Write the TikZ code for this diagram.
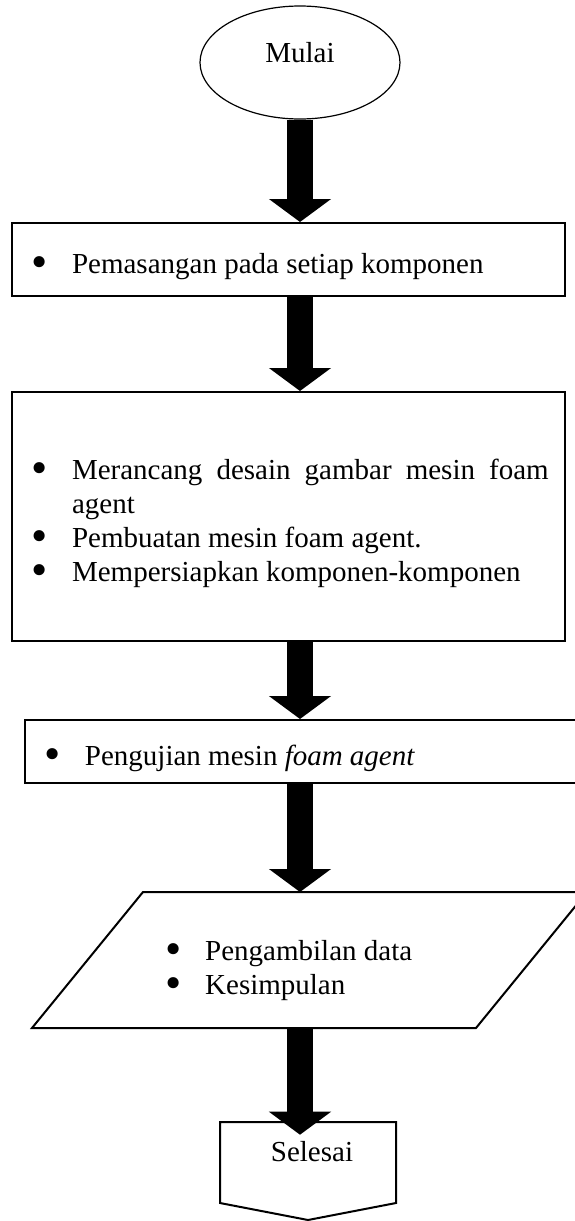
\documentclass[tikz,border=0pt]{standalone}
\usepackage{fontspec,graphicx}
\setmainfont{Liberation Serif}
\usetikzlibrary{arrows.meta,shapes.geometric}
\newcommand{\butir}[1]{\par\hangindent=21.9pt\hangafter=1\noindent\makebox[21.9pt][l]{\hspace{1.85pt}\raisebox{-2pt}{\scalebox{1.6}{\textbullet}}}#1}

\begin{document}
\begin{tikzpicture}[x=0.5pt,y={(0pt,-0.5pt)},font=\fontsize{14.5pt}{17pt}\selectfont,fr/.style={draw,line width=1pt,inner xsep=8.1pt,inner ysep=0pt,text width=260.25pt,align=justify},blk/.style={line width=13pt,-{Triangle[width=30.5pt,length=11.5pt]}}]
\useasboundingbox (0,0) rectangle (574,1221);
\node[ellipse,draw,line width=0.6pt,minimum width=100pt,minimum height=56.5pt,text depth=10pt] (mulai) at (300,62.5) {Mulai};
\node[fr,minimum height=36.5pt] (b1) at (288.5,259.5) {\butir{Pemasangan pada setiap komponen}};
\node[fr,minimum height=124.5pt] (b2) at (288.5,516.5) {\butir{Merancang desain gambar mesin foam agent}\butir{Pembuatan mesin foam agent.}\butir{Mempersiapkan komponen-komponen}};
\node[fr,anchor=west,minimum height=31.5pt] (b3) at (24,751.5) {\butir{Pengujian mesin \textit{foam agent}}};
% data + kesimpulan
\draw[line width=1pt] (32,1028) -- (476,1028) -- (587,892) -- (143,892) -- cycle;
\coordinate (atas) at (300,892);
\coordinate (bawah) at (300,1028);
\node[text width=160pt,align=justify,inner sep=0pt,anchor=west] (data) at (161,963.5) {\butir{Pengambilan data}\butir{Kesimpulan}};
% selesai
\draw[line width=1pt] (220,1122) -- (396,1122) -- (396,1203) -- (308,1220) -- (220,1203) -- cycle;
\node (sel) at (312,1152) {Selesai};
\draw[blk] (mulai.south) -- (b1.north -| mulai);
\draw[blk] (b1.south -| mulai) -- (b2.north -| mulai);
\draw[blk] (b2.south -| mulai) -- (b3.north -| mulai);
\draw[blk] (b3.south -| mulai) -- (atas);
\draw[blk] (bawah) -- (sel.north -| mulai);
\end{tikzpicture}
\end{document}
